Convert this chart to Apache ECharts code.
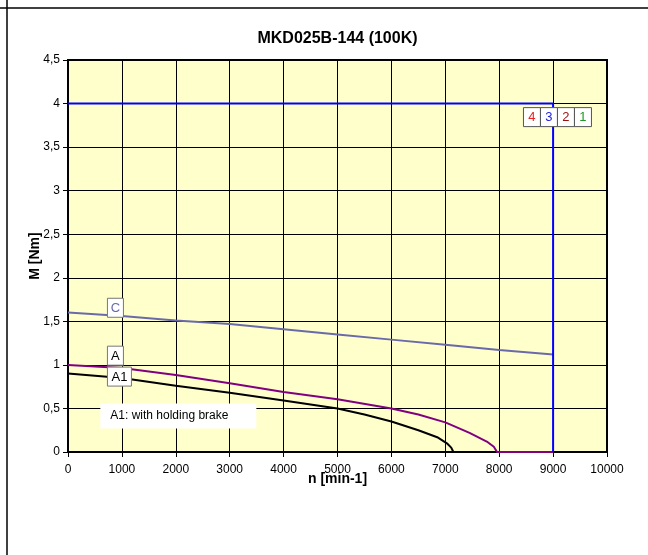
<!DOCTYPE html>
<html>
<head>
<meta charset="utf-8">
<script src="https://cdn.jsdelivr.net/npm/echarts@6/dist/echarts.min.js"></script>
<style>html,body{margin:0;padding:0;background:#fff}#c{width:648px;height:555px}</style>
</head>
<body>
<div id="c"></div>
<script>
var titleText = 'MKD025B-144 (100K)';
var xName = 'n [min-1]';
var yName = 'M [Nm]';

var nLimit = [0, 9000, 9000];
var mLimit = [4, 4, 0];

var nC = [0, 1000, 2000, 3000, 4000, 5000, 6000, 7000, 8000, 9000];
var mC = [1.6, 1.56, 1.51, 1.47, 1.41, 1.35, 1.29, 1.23, 1.17, 1.12];

var nA = [0, 1000, 2000, 3000, 4000, 5000, 6000, 6500, 7000, 7450, 7770, 7900, 7960, 9000];
var mA = [1.0, 0.965, 0.885, 0.79, 0.69, 0.605, 0.5, 0.43, 0.34, 0.22, 0.12, 0.06, 0, 0];

var nA1 = [0, 1000, 2000, 3000, 4000, 5000, 5500, 6000, 6500, 6850, 7030, 7110, 7150, 9000];
var mA1 = [0.9, 0.85, 0.76, 0.68, 0.59, 0.5, 0.43, 0.35, 0.25, 0.17, 0.1, 0.05, 0, 0];

var curveLabels = [
  {text: 'C', n: 880, m: 1.65, color: '#6A6AAA'},
  {text: 'A', n: 880, m: 1.1, color: '#000'},
  {text: 'A1', n: 880, m: 0.86, color: '#000'}
];
var numberBoxes = [
  {text: '4', color: '#EE2222'},
  {text: '3', color: '#2222DD'},
  {text: '2', color: '#991111'},
  {text: '1', color: '#229922'}
];
var noteText = 'A1: with holding brake';

function zip(a, b) { return a.map(function (v, i) { return [v, b[i]]; }); }

var chart = echarts.init(document.getElementById('c'));
var font = 'Liberation Sans, Arial, sans-serif';

chart.setOption({
  animation: false,
  backgroundColor: '#fff',
  grid: {left: 68, top: 60, right: 41, bottom: 103, show: true,
         backgroundColor: '#FFFFCC', borderColor: '#000', borderWidth: 2},
  xAxis: {
    type: 'value', min: 0, max: 10000, interval: 1000,
    name: xName, nameLocation: 'middle', nameGap: 20, nameMoveOverlap: false,
    nameTextStyle: {fontFamily: font, fontWeight: 'bold', fontSize: 14, color: '#000'},
    axisLine: {show: true, lineStyle: {color: '#000', width: 2}},
    axisTick: {show: true, length: 5, lineStyle: {color: '#000'}},
    axisLabel: {fontFamily: font, fontSize: 12, color: '#000', margin: 12,
                formatter: function (v) { return String(v); }},
    splitLine: {show: true, lineStyle: {color: '#000', width: 1}}
  },
  yAxis: {
    type: 'value', min: 0, max: 4.5, interval: 0.5,
    name: yName, nameLocation: 'middle', nameGap: 26, nameRotate: 90, nameMoveOverlap: false,
    nameTextStyle: {fontFamily: font, fontWeight: 'bold', fontSize: 14, color: '#000'},
    axisLine: {show: true, lineStyle: {color: '#000', width: 2}},
    axisTick: {show: true, length: 5, lineStyle: {color: '#000'}},
    axisLabel: {fontFamily: font, fontSize: 12, color: '#000', margin: 8,
                formatter: function (v) { return String(v).replace('.', ','); }},
    splitLine: {show: true, lineStyle: {color: '#000', width: 1}}
  },
  series: [
    {type: 'line', data: zip(nC, mC), symbol: 'none', lineStyle: {color: '#6A6AAA', width: 2}},
    {type: 'line', data: zip(nA1, mA1), symbol: 'none', lineStyle: {color: '#000', width: 2}},
    {type: 'line', data: zip(nA, mA), symbol: 'none', lineStyle: {color: '#800080', width: 2}},
    {type: 'line', data: zip(nLimit, mLimit), symbol: 'none', lineStyle: {color: '#0000FF', width: 2}}
  ]
});

var gr = [];
gr.push({type: 'line', shape: {x1: 0, y1: 8, x2: 648, y2: 8}, style: {stroke: '#000', lineWidth: 1.5}});
gr.push({type: 'line', shape: {x1: 7, y1: 0, x2: 7, y2: 555}, style: {stroke: '#000', lineWidth: 1.5}});
var pL = chart.convertToPixel({gridIndex: 0}, [0, 0]);
var pR = chart.convertToPixel({gridIndex: 0}, [10000, 4.5]);
gr.push({type: 'text', x: (pL[0] + pR[0]) / 2, y: 39,
  style: {text: titleText, font: 'bold 16px ' + font, fill: '#000', textAlign: 'center', textVerticalAlign: 'middle'}});
curveLabels.forEach(function (l) {
  var p = chart.convertToPixel({gridIndex: 0}, [l.n, l.m]);
  var w = l.text.length * 8 + 8;
  gr.push({type: 'rect', shape: {x: p[0] - 8, y: p[1] - 10, width: w, height: 19},
    style: {fill: '#fff', stroke: '#777', lineWidth: 1}, z: 10});
  gr.push({type: 'text', x: p[0] - 8 + w / 2, y: p[1], z: 11,
    style: {text: l.text, font: '13px ' + font, fill: l.color, textAlign: 'center', textVerticalAlign: 'middle'}});
});
var pn = chart.convertToPixel({gridIndex: 0}, [600, 0.42]);
gr.push({type: 'rect', shape: {x: pn[0], y: pn[1] - 12, width: 156, height: 25}, style: {fill: '#fff'}, z: 10});
gr.push({type: 'text', x: pn[0] + 10, y: pn[1], z: 11,
  style: {text: noteText, font: '12px ' + font, fill: '#000', textAlign: 'left', textVerticalAlign: 'middle'}});
var pb = chart.convertToPixel({gridIndex: 0}, [8450, 3.85]);
numberBoxes.forEach(function (b, i) {
  var x = pb[0] + i * 17;
  gr.push({type: 'rect', shape: {x: x, y: pb[1] - 9, width: 17, height: 19},
    style: {fill: '#fff', stroke: '#555', lineWidth: 1}, z: 10});
  gr.push({type: 'text', x: x + 8.5, y: pb[1] + 1, z: 11,
    style: {text: b.text, font: '13px ' + font, fill: b.color, textAlign: 'center', textVerticalAlign: 'middle'}});
});
chart.setOption({graphic: gr});
</script>
</body>
</html>
